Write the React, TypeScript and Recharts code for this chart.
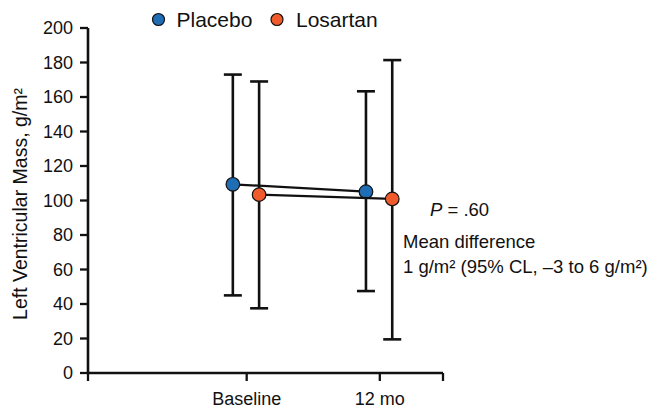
import React from 'react';
import { ScatterChart, Scatter, XAxis, YAxis, ErrorBar } from 'recharts';

const timepoints = ['Baseline', '12 mo'];
const timepointPos = [44.7, 82.2];
const groups = ['Placebo', 'Losartan'];
const groupColors = ['#1f6db5', '#f15a2a'];
const groupOffset = [-3.9, 3.5];

const placeboMean = [109.4, 105.1];
const placeboLow = [45, 47.5];
const placeboHigh = [173, 163.3];

const losartanMean = [103.4, 100.9];
const losartanLow = [37.5, 19.5];
const losartanHigh = [169, 181.4];

const yTicks = [0, 20, 40, 60, 80, 100, 120, 140, 160, 180, 200];
const xTicks = [0, ...timepointPos, 100];

const buildSeries = (mean: number[], low: number[], high: number[], offset: number) =>
  timepoints.map((t, i) => ({
    name: t,
    x: timepointPos[i] + offset,
    y: mean[i],
    err: [mean[i] - low[i], high[i] - mean[i]],
  }));

const placeboData = buildSeries(placeboMean, placeboLow, placeboHigh, groupOffset[0]);
const losartanData = buildSeries(losartanMean, losartanLow, losartanHigh, groupOffset[1]);

const font = 'Liberation Sans, Arial, Helvetica, sans-serif';

const dot = (color: string) => (props: any) => (
  <circle cx={props.cx} cy={props.cy} r={6.8} fill={color} stroke="#111" strokeWidth={1.2} />
);

const xLabel = (v: number) => {
  const i = timepointPos.indexOf(v);
  return i >= 0 ? timepoints[i] : '';
};

const YLabel = () => (
  <text
    x={20}
    y={204}
    transform="rotate(-90 20 204)"
    textAnchor="middle"
    dominantBaseline="central"
    fontSize={19.5}
    fill="#111"
    fontFamily={font}
  >
    Left Ventricular Mass, g/m²
  </text>
);

export default function App() {
  // absolute at 0,0 so the page never gets a scrollbar
  return (
    <div style={{ fontFamily: font, position: 'absolute', top: 0, left: 0 }}>
      <ScatterChart width={652} height={408} margin={{ top: 28, right: 209, bottom: 0, left: 8 }}>
        <XAxis
          type="number"
          dataKey="x"
          domain={[0, 100]}
          ticks={xTicks}
          interval={0}
          tickFormatter={xLabel}
          tickSize={8}
          tickMargin={11}
          height={35}
          axisLine={{ stroke: '#111', strokeWidth: 2.6 }}
          tickLine={{ stroke: '#111', strokeWidth: 2.3 }}
          tick={{ fill: '#111', fontSize: 18 }}
        />
        <YAxis
          type="number"
          dataKey="y"
          domain={[0, 200]}
          ticks={yTicks}
          interval={0}
          width={80}
          tickSize={8}
          tickMargin={7}
          axisLine={{ stroke: '#111', strokeWidth: 2.6 }}
          tickLine={{ stroke: '#111', strokeWidth: 2.3 }}
          tick={{ fill: '#111', fontSize: 18 }}
          label={YLabel}
        />
        <Scatter
          name={groups[0]}
          data={placeboData}
          line={{ stroke: '#111', strokeWidth: 2.2 }}
          shape={dot(groupColors[0])}
          isAnimationActive={false}
        >
          <ErrorBar dataKey="err" direction="y" width={9} stroke="#111" strokeWidth={2.6} />
        </Scatter>
        <Scatter
          name={groups[1]}
          data={losartanData}
          line={{ stroke: '#111', strokeWidth: 2.2 }}
          shape={dot(groupColors[1])}
          isAnimationActive={false}
        >
          <ErrorBar dataKey="err" direction="y" width={9} stroke="#111" strokeWidth={2.6} />
        </Scatter>

        {/* legend */}
        <g fontFamily={font} fontSize={21} fill="#111">
          <circle cx={158.5} cy={19.5} r={6} fill={groupColors[0]} stroke="#111" strokeWidth={1.2} />
          <text x={176.5} y={26.5}>{groups[0]}</text>
          <circle cx={277} cy={19.5} r={6} fill={groupColors[1]} stroke="#111" strokeWidth={1.2} />
          <text x={296} y={26.5}>{groups[1]}</text>
        </g>

        {/* annotation */}
        <g fontFamily={font} fontSize={18.5} fill="#111">
          <text x={430} y={216}>
            <tspan fontStyle="italic">P</tspan> = .60
          </text>
          <text x={403} y={248}>Mean difference</text>
          <text x={403} y={273}>1 g/m² (95% CL, –3 to 6 g/m²)</text>
        </g>
      </ScatterChart>
    </div>
  );
}
